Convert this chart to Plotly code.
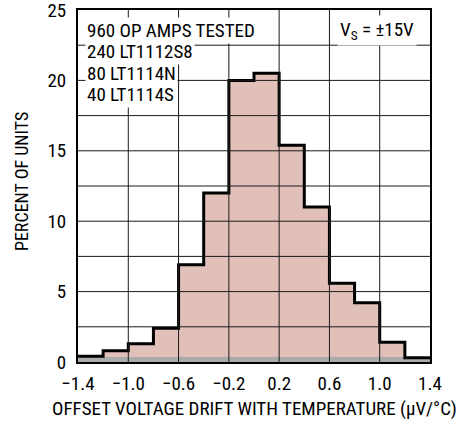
import plotly.graph_objects as go

# ---- data ----
bin_left = [-1.4, -1.2, -1.0, -0.8, -0.6, -0.4, -0.2, 0.0, 0.2, 0.4, 0.6, 0.8, 1.0, 1.2]
bin_width = 0.2
percent_units = [0.4, 0.8, 1.3, 2.4, 6.9, 12.0, 20.0, 20.5, 15.4, 11.0, 5.6, 4.2, 1.4, 0.3]
gray_band = [0.35, 0.35, 0.35, 0.35, 0.35, 0.35, 0.35, 0.35, 0.35, 0.35, 0.35, 0.35, 0.35, 0.35]

x_tick_vals = [-1.4, -1.0, -0.6, -0.2, 0.2, 0.6, 1.0, 1.4]
x_tick_text = ["−1.4", "−1.0", "−0.6", "−0.2", "0.2", "0.6", "1.0", "1.4"]
y_tick_vals = [0, 5, 10, 15, 20, 25]
y_grid_vals = [2.5, 5, 7.5, 10, 12.5, 15, 17.5, 20, 22.5]

info_lines = ["960 OP AMPS TESTED", "240 LT1112S8", "80 LT1114N", "40 LT1114S"]
supply_text = "V<sub>S</sub> = ±15V"
x_title = "OFFSET VOLTAGE DRIFT WITH TEMPERATURE (μV/°C)"
y_title = "PERCENT OF UNITS"

FONT = "Liberation Sans Narrow, Arial Narrow, Roboto Condensed, Liberation Sans, sans-serif"
GRID = "#1a1a1a"

centers = [b + bin_width / 2 for b in bin_left]
step_x = bin_left + [bin_left[-1] + bin_width]
step_y = percent_units + [percent_units[-1]]

fig = go.Figure()
fig.add_trace(go.Bar(x=centers, y=percent_units, width=bin_width,
                     marker=dict(color="#E2C0BA", line=dict(width=0)),
                     hoverinfo="skip", showlegend=False))
fig.add_trace(go.Bar(x=centers, y=gray_band, width=bin_width,
                     marker=dict(color="#ABABAB", line=dict(width=0)),
                     hoverinfo="skip", showlegend=False))
fig.add_trace(go.Scatter(x=step_x, y=step_y, mode="lines",
                         line=dict(color="black", width=3, shape="hv"),
                         hoverinfo="skip", showlegend=False))

# grid lines drawn above the filled histogram, as in the reference
for v in x_tick_vals[1:-1]:
    fig.add_shape(type="line", xref="x", yref="paper", x0=v, x1=v, y0=0, y1=1,
                  line=dict(color=GRID, width=1), layer="above")
for v in y_grid_vals:
    fig.add_shape(type="line", xref="paper", yref="y", x0=0, x1=1, y0=v, y1=v,
                  line=dict(color=GRID, width=1), layer="above")

annotations = []
line_y0 = 0.943
line_dy = 0.061
for i, t in enumerate(info_lines):
    annotations.append(dict(text=t, xref="paper", yref="paper", x=0.02, y=line_y0 - i * line_dy,
                            xanchor="left", yanchor="middle", showarrow=False,
                            bgcolor="white", borderpad=1,
                            font=dict(family=FONT, size=19, color="black")))
annotations.append(dict(text=supply_text, xref="paper", yref="paper", x=0.962, y=line_y0,
                        xanchor="right", yanchor="middle", showarrow=False,
                        bgcolor="white", borderpad=2,
                        font=dict(family=FONT, size=19, color="black")))
annotations.append(dict(text=x_title, xref="paper", yref="paper", x=0.5, y=-0.131,
                        xanchor="center", yanchor="middle", showarrow=False,
                        font=dict(family=FONT, size=19, color="black")))
annotations.append(dict(text=y_title, xref="paper", yref="paper", x=-0.162, y=0.514,
                        xanchor="center", yanchor="middle", showarrow=False, textangle=-90,
                        font=dict(family=FONT, size=18, color="black")))

fig.update_layout(
    width=459, height=423,
    margin=dict(l=78, r=29, t=10, b=61, autoexpand=False),
    paper_bgcolor="white", plot_bgcolor="white",
    barmode="overlay", bargap=0,
    font=dict(family=FONT, size=19, color="black"),
    annotations=annotations,
    xaxis=dict(range=[-1.4, 1.4], tickmode="array", tickvals=x_tick_vals, ticktext=x_tick_text,
               showgrid=False,
               showline=True, linecolor="black", linewidth=2, mirror=True,
               ticks="outside", ticklen=3, tickcolor="rgba(255,255,255,0)",
               zeroline=False, automargin=False, tickfont=dict(size=19),
               ticklabeloverflow="allow"),
    yaxis=dict(range=[0, 25], tickmode="array", tickvals=y_tick_vals,
               showgrid=False,
               showline=True, linecolor="black", linewidth=2, mirror=True,
               ticks="outside", ticklen=6, tickcolor="rgba(255,255,255,0)",
               zeroline=False, automargin=False, tickfont=dict(size=19),
               ticklabeloverflow="allow"),
)

fig.write_html("out.html", config={"displayModeBar": False},
               post_script="document.body.style.margin='0';")
